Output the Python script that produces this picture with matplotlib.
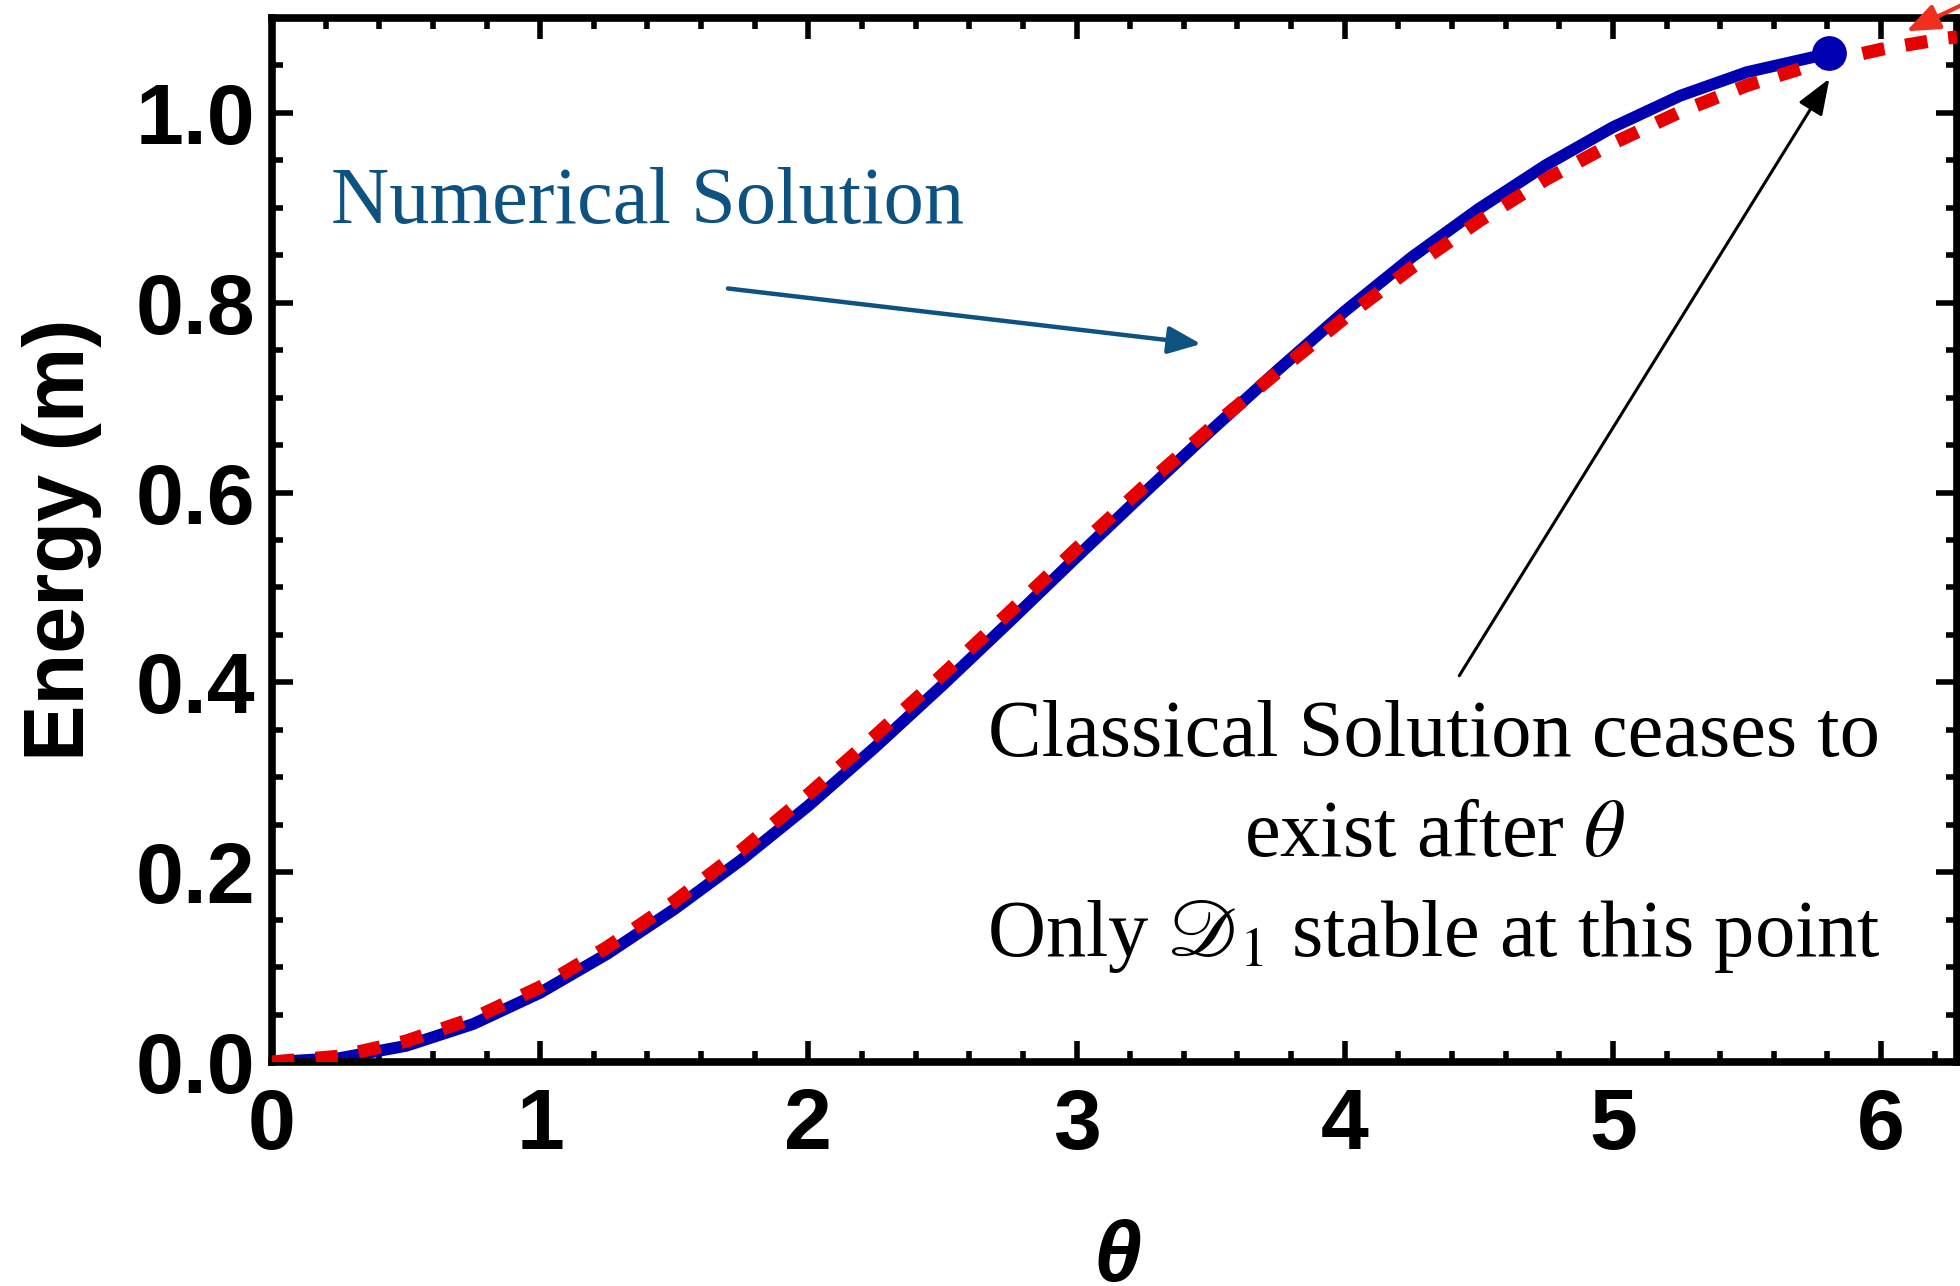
import matplotlib
matplotlib.use('Agg')
from matplotlib import pyplot as plt
from matplotlib.ticker import MultipleLocator

plt.rcParams['font.family'] = ['Liberation Sans', 'DejaVu Sans']
plt.rcParams['mathtext.fontset'] = 'stix'

# numerical solution (solid blue), ends where the classical solution stops existing
theta_num = [0.0, 0.25, 0.5, 0.75, 1.0, 1.25, 1.5, 1.75, 2.0, 2.25, 2.5, 2.75,
             3.0, 3.25, 3.5, 3.75, 4.0, 4.25, 4.5, 4.75, 5.0, 5.25, 5.5, 5.75, 5.807]
energy_num = [0.0, 0.004, 0.017, 0.040, 0.073, 0.114, 0.161, 0.213, 0.270, 0.332,
              0.397, 0.464, 0.532, 0.599, 0.665, 0.729, 0.791, 0.848, 0.899, 0.945,
              0.985, 1.018, 1.043, 1.059, 1.0635]

# classical solution (red dashed)
theta_cl = [0.0, 0.25, 0.5, 0.75, 1.0, 1.25, 1.5, 1.75, 2.0, 2.25, 2.5, 2.75,
            3.0, 3.25, 3.5, 3.75, 4.0, 4.25, 4.5, 4.75, 5.0, 5.25, 5.5, 5.75,
            6.0, 6.25, 6.2832]
energy_cl = [0.0, 0.006, 0.022, 0.046, 0.079, 0.121, 0.169, 0.223, 0.282, 0.344,
             0.408, 0.474, 0.541, 0.606, 0.668, 0.727, 0.784, 0.837, 0.886, 0.930,
             0.968, 1.001, 1.029, 1.051, 1.067, 1.079, 1.080]

theta_end = 5.807
energy_end = 1.0635

fig = plt.figure(figsize=(19.6, 12.86), dpi=100)
ax = fig.add_axes([0.1388, 0.1742, 0.8597, 0.8118])

ax.plot(theta_num, energy_num, color='#0000b0', lw=8.5, solid_capstyle='butt',
        solid_joinstyle='round', zorder=2)
ax.plot(theta_cl, energy_cl, color='#e60000', lw=9.5, dashes=(1.7, 1.6),
        dash_joinstyle='round', zorder=3)
ax.plot([theta_end], [energy_end], 'o', color='#0000b0', ms=24, zorder=4)

ax.set_xlim(0, 6.2832)
ax.set_ylim(0, 1.1)
ax.xaxis.set_major_locator(MultipleLocator(1))
ax.xaxis.set_minor_locator(MultipleLocator(0.2))
ax.yaxis.set_major_locator(MultipleLocator(0.2))
ax.yaxis.set_minor_locator(MultipleLocator(0.05))
ax.yaxis.set_major_formatter(lambda v, p: '%.1f' % v)

for s in ax.spines.values():
    s.set_linewidth(5.5)
ax.tick_params(which='both', direction='in', top=True, right=True, width=4)
ax.tick_params(which='major', length=15, labelsize=62)
ax.tick_params(which='minor', length=8)
ax.tick_params(axis='x', which='major', pad=18)
ax.tick_params(axis='y', which='major', pad=12)
for lab in ax.get_xticklabels() + ax.get_yticklabels():
    lab.set_fontweight('bold')

ax.set_ylabel('Energy (m)', fontsize=61, fontweight='bold')
ax.yaxis.set_label_coords(-0.101, 0.5)
ax.set_xlabel('θ', fontsize=62, fontweight='bold', style='italic')
ax.xaxis.set_label_coords(0.502, -0.150)

serif = 'Liberation Serif'
ax.text(0.22, 0.884, 'Numerical Solution', color='#0e5282', fontsize=58,
        family=serif, ha='left', va='baseline')
ax.annotate('', xy=(3.464, 0.7565), xytext=(1.70, 0.815),
            arrowprops=dict(arrowstyle='-|>,head_length=1.0,head_width=0.42',
                            mutation_scale=20, color='#0e5282', lw=3.2, shrinkA=0, shrinkB=0))

ax.text(4.334, 0.322, 'Classical Solution ceases to', fontsize=58, family=serif,
        ha='center', va='baseline')
ax.text(4.334, 0.217, r'exist after $\theta$', fontsize=58, family=serif,
        ha='center', va='baseline')
ax.text(4.334, 0.112, r'Only $\mathscr{D}_1$ stable at this point', fontsize=58,
        family=serif, ha='center', va='baseline')
ax.annotate('', xy=(theta_end, 1.036), xytext=(4.427, 0.407),
            arrowprops=dict(arrowstyle='-|>,head_length=1.1,head_width=0.42',
                            mutation_scale=20, color='black', lw=2.2, shrinkA=0, shrinkB=0))

# arrow coming in from outside the frame at the top right
ax.annotate('', xy=(6.094, 1.086), xytext=(6.49, 1.139), annotation_clip=False,
            arrowprops=dict(arrowstyle='-|>,head_length=1.0,head_width=0.4',
                            mutation_scale=20, color='#f0301e', lw=3, shrinkA=0, shrinkB=0))

plt.savefig('out.png', dpi=100)
